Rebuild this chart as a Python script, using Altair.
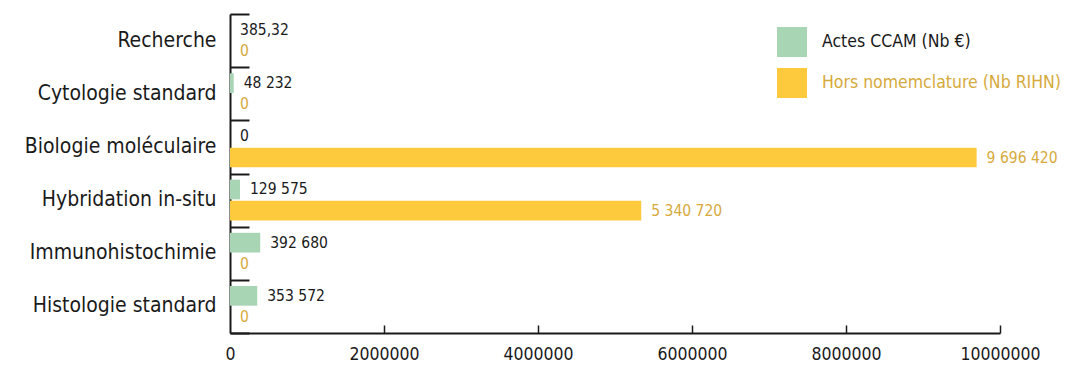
import altair as alt
import pandas as pd

categories = ["Recherche", "Cytologie standard", "Biologie moléculaire",
              "Hybridation in-situ", "Immunohistochimie", "Histologie standard"]
series = ["Actes CCAM (Nb €)", "Hors nomemclature (Nb RIHN)"]
actes = [385.32, 48232, 0, 129575, 392680, 353572]
hors = [0, 0, 9696420, 5340720, 0, 0]
actes_labels = ["385,32", "48 232", "0", "129 575", "392 680", "353 572"]
hors_labels = ["0", "0", "9 696 420", "5 340 720", "0", "0"]
x_ticks = [0, 2000000, 4000000, 6000000, 8000000, 10000000]

rows = []
for c, v, l in zip(categories, actes, actes_labels):
    rows.append({"cat": c, "series": series[0], "value": v, "label": l})
for c, v, l in zip(categories, hors, hors_labels):
    rows.append({"cat": c, "series": series[1], "value": v, "label": l})
df = pd.DataFrame(rows)

FONT = "DejaVu Sans Condensed"
BLACK = "#1a1a1a"
GOLD = "#D6AA3C"
GREEN = "#A8D5B4"
YELLOW = "#FDC93D"
W, H = 770, 319

yscale = alt.Scale(paddingInner=0, paddingOuter=0)
yoff = alt.YOffset("series:N", sort=series,
                   scale=alt.Scale(paddingInner=0.07, paddingOuter=0.29))

bars = alt.Chart(df).mark_bar().encode(
    x=alt.X("value:Q", scale=alt.Scale(domain=[0, 10000000], nice=False),
            title=None,
            axis=alt.Axis(orient="bottom", values=x_ticks, format="d", ticks=False,
                          grid=False, domain=True, domainColor=BLACK, domainWidth=2,
                          labelFontSize=17.5, labelColor=BLACK, labelPadding=12,
                          labelFont=FONT, labelFlush=False, labelOverlap=False)),
    y=alt.Y("cat:N", sort=categories, scale=yscale, title=None,
            axis=alt.Axis(orient="left", ticks=False, domain=True, domainColor=BLACK,
                          domainWidth=2, labelFontSize=21, labelColor=BLACK,
                          labelPadding=14, labelFont=FONT, labelLimit=400)),
    yOffset=yoff,
    color=alt.Color("series:N", sort=series,
                    scale=alt.Scale(domain=series, range=[GREEN, YELLOW]),
                    legend=alt.Legend(title=None, orient="none", legendX=547, legendY=13,
                                      symbolType="square", symbolSize=900,
                                      symbolStrokeWidth=0, labelFontSize=17.5,
                                      labelFont=FONT, labelOffset=15, rowPadding=11,
                                      labelLimit=500,
                                      labelColor=alt.ExprRef(
                                          "indexof(datum.label, 'Actes') >= 0 ? '" + BLACK + "' : '" + GOLD + "'"))),
)

texts = alt.Chart(df).mark_text(align="left", baseline="middle", dx=10,
                                fontSize=15.5, font=FONT).encode(
    x=alt.X("value:Q", scale=alt.Scale(domain=[0, 10000000], nice=False), title=None,
            axis=alt.Axis(orient="top", offset=-H, values=x_ticks[1:], labels=False,
                          domain=False, ticks=True, tickSize=8, tickWidth=1.5,
                          tickColor=BLACK, grid=False)),
    y=alt.Y("cat:N", sort=categories, scale=yscale, title=None,
            axis=alt.Axis(orient="right", offset=-W, labels=False, domain=False,
                          ticks=True, tickBand="extent", tickSize=19, tickWidth=2,
                          tickColor=BLACK, grid=False)),
    yOffset=yoff,
    text="label:N",
    color=alt.condition(alt.datum.series == series[0], alt.value(BLACK), alt.value(GOLD)),
)

chart = alt.layer(bars, texts).resolve_axis(x="independent", y="independent").properties(
    width=W, height=H, background="white",
    padding={"left": 16, "top": 5, "right": 5, "bottom": 5}
).configure_view(stroke=None)

chart.save("out.html", embed_options={"renderer": "svg", "actions": False})
